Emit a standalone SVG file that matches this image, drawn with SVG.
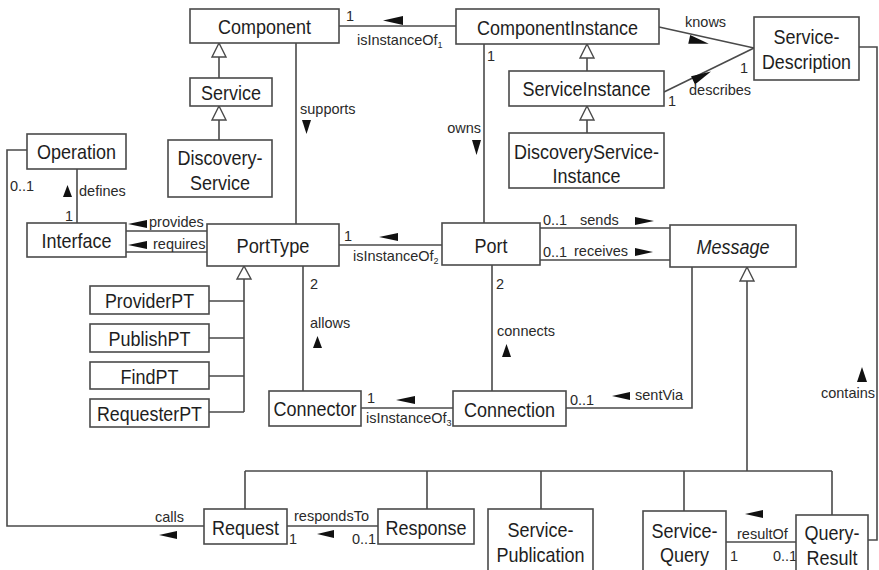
<svg xmlns="http://www.w3.org/2000/svg" width="879" height="570" viewBox="0 0 879 570">
  <style>
    .box { fill: #ffffff; stroke: #4a4a4a; stroke-width: 1.6; }
    .ln { fill: none; stroke: #4a4a4a; stroke-width: 1.6; }
    .gen { fill: #ffffff; stroke: #4a4a4a; stroke-width: 1.4; }
    .dir { fill: #111111; stroke: none; }
    .nm { font-family: "Liberation Sans", Arial, sans-serif; font-size: 21px; fill: #1e1e1e; text-anchor: middle; }
    .tight { font-size: 19.5px; }
    .it { font-style: italic; }
    .lb { font-family: "Liberation Sans", Arial, sans-serif; font-size: 14.5px; fill: #2a2a2a; }
    .sub { font-size: 9px; }
  </style>
  <rect width="879" height="570" fill="#ffffff"/>

  <!-- associations, generalizations and their labels -->
  <g id="connectors">
    <!-- isInstanceOf1 -->
    <path class="ln" d="M339,26 H456"/>
    <text class="lb" x="346" y="21">1</text>
    <polygon class="dir" points="383,20.5 403,16 403,25"/>
    <text class="lb" x="357" y="45">isInstanceOf<tspan class="sub" dy="3">1</tspan></text>

    <!-- Service / DiscoveryService specialisation -->
    <path class="ln" d="M219,57 V78 M219,120 V140"/>
    <polygon class="gen" points="219,43 212,57 226,57"/>
    <polygon class="gen" points="219,106 212,120 226,120"/>

    <!-- supports -->
    <path class="ln" d="M296,43 V224"/>
    <text class="lb" x="300" y="114">supports</text>
    <polygon class="dir" points="302,120 311,120 306.5,134"/>

    <!-- owns -->
    <path class="ln" d="M484,44 V223"/>
    <text class="lb" x="487" y="61">1</text>
    <text class="lb" x="481" y="133" text-anchor="end">owns</text>
    <polygon class="dir" points="472,140 481,140 476.5,155"/>

    <!-- ServiceInstance / DiscoveryServiceInstance specialisation -->
    <path class="ln" d="M587,58 V71 M587,120 V133"/>
    <polygon class="gen" points="587,44 580,58 594,58"/>
    <polygon class="gen" points="587,106 580,120 594,120"/>

    <!-- knows -->
    <path class="ln" d="M659,27 L754,48"/>
    <text class="lb" x="685" y="27">knows</text>
    <polygon class="dir" points="-10,-4.5 10,0 -10,4.5" transform="translate(699,41.5) rotate(12.5)"/>

    <!-- describes -->
    <path class="ln" d="M664,92 L754,48"/>
    <text class="lb" x="668" y="106">1</text>
    <text class="lb" x="740" y="73">1</text>
    <text class="lb" x="689" y="95">describes</text>
    <polygon class="dir" points="-10,-4.5 10,0 -10,4.5" transform="translate(702,76) rotate(-26)"/>

    <!-- contains -->
    <path class="ln" d="M859,47 H877 V540 H868"/>
    <text class="lb" x="875" y="398" text-anchor="end">contains</text>
    <polygon class="dir" points="857,382 867,382 862,367"/>

    <!-- calls -->
    <path class="ln" d="M27,150 H7 V526 H204"/>
    <text class="lb" x="10" y="191">0..1</text>
    <text class="lb" x="155" y="522">calls</text>
    <polygon class="dir" points="159,535 177,531 177,539"/>

    <!-- defines -->
    <path class="ln" d="M77,169 V223"/>
    <polygon class="dir" points="63,197 72,197 67.5,185"/>
    <text class="lb" x="79" y="196">defines</text>
    <text class="lb" x="65" y="221">1</text>

    <!-- provides / requires -->
    <path class="ln" d="M126,231 H207 M126,252 H207"/>
    <polygon class="dir" points="128,224 147,220 147,228"/>
    <text class="lb" x="149" y="227">provides</text>
    <polygon class="dir" points="128,245 147,241 147,249"/>
    <text class="lb" x="153" y="249">requires</text>

    <!-- PortType specialisations -->
    <polygon class="gen" points="244,266 237,279 251,279"/>
    <path class="ln" d="M244,279 V412 M209,301 H244 M209,338 H244 M209,376 H244 M209,412 H244"/>

    <!-- isInstanceOf2 -->
    <path class="ln" d="M339,245 H442"/>
    <text class="lb" x="344" y="241">1</text>
    <polygon class="dir" points="379,237 398,233 398,241"/>
    <text class="lb" x="353" y="261">isInstanceOf<tspan class="sub" dy="3">2</tspan></text>

    <!-- allows -->
    <path class="ln" d="M303,266 V391"/>
    <text class="lb" x="310" y="289">2</text>
    <text class="lb" x="310" y="328">allows</text>
    <polygon class="dir" points="313,348 322,348 317.5,336"/>

    <!-- isInstanceOf3 -->
    <path class="ln" d="M361,408 H453"/>
    <text class="lb" x="367" y="403">1</text>
    <polygon class="dir" points="396,400 415,396 415,404"/>
    <text class="lb" x="366" y="423">isInstanceOf<tspan class="sub" dy="3">3</tspan></text>

    <!-- connects -->
    <path class="ln" d="M492,265 V391"/>
    <text class="lb" x="496" y="289">2</text>
    <text class="lb" x="497" y="336">connects</text>
    <polygon class="dir" points="502,357 511,357 506.5,344"/>

    <!-- sends / receives -->
    <path class="ln" d="M540,228 H670 M540,260 H670"/>
    <text class="lb" x="543" y="225">0..1</text>
    <text class="lb" x="580" y="225">sends</text>
    <polygon class="dir" points="635,217 635,225 654,221"/>
    <text class="lb" x="543" y="257">0..1</text>
    <text class="lb" x="574" y="256">receives</text>
    <polygon class="dir" points="635,248 635,256 653,252"/>

    <!-- sentVia -->
    <path class="ln" d="M692,267 V408 H566"/>
    <text class="lb" x="570" y="405">0..1</text>
    <polygon class="dir" points="612,396 630,392 630,400"/>
    <text class="lb" x="635" y="400">sentVia</text>

    <!-- Message specialisations -->
    <polygon class="gen" points="747,267 740,281 754,281"/>
    <path class="ln" d="M747,281 V471 M245,471 H832 M245,471 V509 M427,471 V509 M541,471 V509 M684,471 V511 M832,471 V515"/>

    <!-- respondsTo -->
    <path class="ln" d="M287,526 H378"/>
    <text class="lb" x="294" y="521">respondsTo</text>
    <text class="lb" x="289" y="544">1</text>
    <text class="lb" x="352" y="544">0..1</text>
    <polygon class="dir" points="317,534 334,530 334,538"/>

    <!-- resultOf -->
    <path class="ln" d="M726,542 H796"/>
    <text class="lb" x="737" y="539">resultOf</text>
    <text class="lb" x="730" y="561">1</text>
    <text class="lb" x="773" y="561">0..1</text>
    <polygon class="dir" points="745,514 763,510 763,518"/>
  </g>

  <!-- classes (names set in a tall, narrow face: 21px glyphs fitted to 18px advance widths) -->
  <g id="component"><rect class="box" x="190" y="9" width="149" height="34"/><text class="nm" x="264.5" y="34" textLength="93" lengthAdjust="spacingAndGlyphs">Component</text></g>
  <g id="service"><rect class="box" x="190" y="78" width="82" height="28"/><text class="nm" x="231" y="100" textLength="60" lengthAdjust="spacingAndGlyphs">Service</text></g>
  <g id="discovery-service"><rect class="box" x="168" y="140" width="104" height="57"/><text class="nm" x="220" y="165" textLength="85" lengthAdjust="spacingAndGlyphs">Discovery-</text><text class="nm" x="220" y="190" textLength="60" lengthAdjust="spacingAndGlyphs">Service</text></g>
  <g id="component-instance"><rect class="box" x="456" y="9" width="203" height="35"/><text class="nm" x="557.5" y="35" textLength="161" lengthAdjust="spacingAndGlyphs">ComponentInstance</text></g>
  <g id="service-instance"><rect class="box" x="509" y="71" width="155" height="35"/><text class="nm tight" x="586.5" y="96" textLength="128" lengthAdjust="spacingAndGlyphs">ServiceInstance</text></g>
  <g id="discovery-service-instance"><rect class="box" x="509" y="133" width="155" height="55"/><text class="nm" x="586.5" y="159" textLength="145" lengthAdjust="spacingAndGlyphs">DiscoveryService-</text><text class="nm" x="586.5" y="183" textLength="68" lengthAdjust="spacingAndGlyphs">Instance</text></g>
  <g id="service-description"><rect class="box" x="754" y="17" width="105" height="63"/><text class="nm" x="806.5" y="44" textLength="66" lengthAdjust="spacingAndGlyphs">Service-</text><text class="nm" x="806.5" y="69" textLength="89" lengthAdjust="spacingAndGlyphs">Description</text></g>
  <g id="operation"><rect class="box" x="27" y="134" width="99" height="35"/><text class="nm" x="76.5" y="159" textLength="79" lengthAdjust="spacingAndGlyphs">Operation</text></g>
  <g id="interface"><rect class="box" x="27" y="223" width="99" height="34"/><text class="nm" x="76.5" y="248" textLength="70" lengthAdjust="spacingAndGlyphs">Interface</text></g>
  <g id="port-type"><rect class="box" x="207" y="224" width="132" height="42"/><text class="nm" x="273" y="253" textLength="73" lengthAdjust="spacingAndGlyphs">PortType</text></g>
  <g id="provider-pt"><rect class="box" x="90" y="286" width="119" height="28"/><text class="nm" x="149.5" y="308" textLength="89" lengthAdjust="spacingAndGlyphs">ProviderPT</text></g>
  <g id="publish-pt"><rect class="box" x="90" y="324" width="119" height="28"/><text class="nm" x="149.5" y="346" textLength="82" lengthAdjust="spacingAndGlyphs">PublishPT</text></g>
  <g id="find-pt"><rect class="box" x="90" y="362" width="119" height="27"/><text class="nm" x="149.5" y="384" textLength="58" lengthAdjust="spacingAndGlyphs">FindPT</text></g>
  <g id="requester-pt"><rect class="box" x="90" y="399" width="119" height="28"/><text class="nm" x="149.5" y="421" textLength="105" lengthAdjust="spacingAndGlyphs">RequesterPT</text></g>
  <g id="connector"><rect class="box" x="269" y="391" width="92" height="35"/><text class="nm tight" x="315" y="416" textLength="83" lengthAdjust="spacingAndGlyphs">Connector</text></g>
  <g id="connection"><rect class="box" x="453" y="391" width="113" height="35"/><text class="nm" x="509.5" y="417" textLength="91" lengthAdjust="spacingAndGlyphs">Connection</text></g>
  <g id="port"><rect class="box" x="442" y="223" width="98" height="42"/><text class="nm" x="491" y="253" textLength="33" lengthAdjust="spacingAndGlyphs">Port</text></g>
  <g id="message"><rect class="box" x="670" y="225" width="126" height="42"/><text class="nm it" x="733" y="254" textLength="73" lengthAdjust="spacingAndGlyphs">Message</text></g>
  <g id="request"><rect class="box" x="204" y="509" width="83" height="35"/><text class="nm" x="245.5" y="535" textLength="67" lengthAdjust="spacingAndGlyphs">Request</text></g>
  <g id="response"><rect class="box" x="378" y="509" width="96" height="35"/><text class="nm" x="426" y="535" textLength="81" lengthAdjust="spacingAndGlyphs">Response</text></g>
  <g id="service-publication"><rect class="box" x="488" y="509" width="105" height="70"/><text class="nm" x="540.5" y="537" textLength="66" lengthAdjust="spacingAndGlyphs">Service-</text><text class="nm" x="540.5" y="562" textLength="88" lengthAdjust="spacingAndGlyphs">Publication</text></g>
  <g id="service-query"><rect class="box" x="643" y="511" width="83" height="70"/><text class="nm" x="684.5" y="538" textLength="66" lengthAdjust="spacingAndGlyphs">Service-</text><text class="nm" x="684.5" y="562" textLength="49" lengthAdjust="spacingAndGlyphs">Query</text></g>
  <g id="query-result"><rect class="box" x="796" y="515" width="72" height="65"/><text class="nm" x="832" y="540" textLength="55" lengthAdjust="spacingAndGlyphs">Query-</text><text class="nm" x="832" y="565" textLength="51" lengthAdjust="spacingAndGlyphs">Result</text></g>
</svg>
